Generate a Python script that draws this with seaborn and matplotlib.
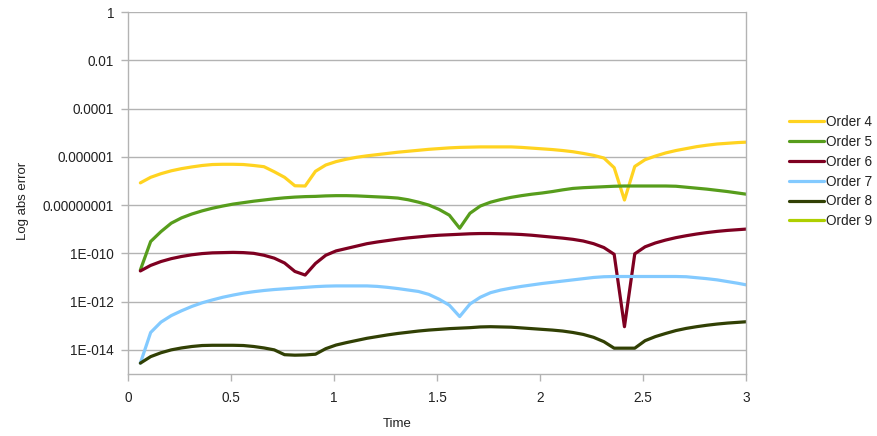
import numpy as np
import pandas as pd
import matplotlib
matplotlib.use("Agg")
import matplotlib.pyplot as plt
from matplotlib.lines import Line2D
import seaborn as sns

# Sample times
time = [0.06, 0.11, 0.16, 0.21, 0.26, 0.31, 0.36, 0.41, 0.46, 0.51,
        0.56, 0.61, 0.66, 0.71, 0.76, 0.81, 0.86, 0.91, 0.96, 1.01,
        1.06, 1.11, 1.16, 1.21, 1.26, 1.31, 1.36, 1.41, 1.46, 1.51,
        1.56, 1.61, 1.66, 1.71, 1.76, 1.81, 1.86, 1.91, 1.96, 2.01,
        2.06, 2.11, 2.16, 2.21, 2.26, 2.31, 2.36, 2.41, 2.46, 2.51,
        2.56, 2.61, 2.66, 2.71, 2.76, 2.81, 2.86, 2.91, 2.96, 3.01]

# log10 of the absolute error for each integration order
order4_log10 = [-7.08, -6.85, -6.70, -6.58, -6.49, -6.42, -6.36, -6.32, -6.31, -6.31,
                -6.32, -6.36, -6.41, -6.62, -6.85, -7.20, -7.21, -6.60, -6.34, -6.20,
                -6.10, -6.02, -5.96, -5.91, -5.86, -5.81, -5.77, -5.73, -5.69, -5.66,
                -5.63, -5.61, -5.60, -5.59, -5.59, -5.59, -5.59, -5.61, -5.64, -5.67,
                -5.70, -5.74, -5.79, -5.86, -5.94, -6.05, -6.45, -7.79, -6.40, -6.12,
                -5.97, -5.84, -5.74, -5.66, -5.58, -5.52, -5.47, -5.44, -5.41, -5.39]
order5_log10 = [-10.69, -9.51, -9.10, -8.75, -8.53, -8.37, -8.24, -8.13, -8.04, -7.96,
                -7.90, -7.84, -7.79, -7.74, -7.70, -7.67, -7.65, -7.64, -7.62, -7.61,
                -7.61, -7.62, -7.64, -7.66, -7.68, -7.71, -7.78, -7.88, -8.00, -8.18,
                -8.42, -8.96, -8.34, -8.04, -7.88, -7.77, -7.68, -7.61, -7.55, -7.50,
                -7.44, -7.37, -7.31, -7.28, -7.26, -7.24, -7.22, -7.21, -7.21, -7.21,
                -7.21, -7.21, -7.22, -7.26, -7.30, -7.34, -7.39, -7.44, -7.50, -7.56]
order6_log10 = [-10.73, -10.50, -10.34, -10.22, -10.13, -10.06, -10.01, -9.98, -9.97, -9.96,
                -9.97, -10.00, -10.08, -10.20, -10.40, -10.75, -10.90, -10.42, -10.08, -9.90,
                -9.80, -9.70, -9.60, -9.53, -9.47, -9.41, -9.36, -9.32, -9.28, -9.25,
                -9.23, -9.21, -9.19, -9.18, -9.18, -9.19, -9.20, -9.22, -9.25, -9.29,
                -9.33, -9.37, -9.42, -9.49, -9.60, -9.76, -10.04, -13.04, -10.02, -9.73,
                -9.57, -9.45, -9.35, -9.27, -9.20, -9.14, -9.09, -9.05, -9.02, -8.99]
order7_log10 = [-14.55, -13.28, -12.85, -12.58, -12.38, -12.20, -12.05, -11.93, -11.82, -11.73,
                -11.65, -11.59, -11.54, -11.50, -11.47, -11.44, -11.41, -11.38, -11.36, -11.35,
                -11.35, -11.35, -11.35, -11.37, -11.41, -11.46, -11.52, -11.58, -11.70, -11.90,
                -12.15, -12.62, -12.10, -11.82, -11.63, -11.52, -11.44, -11.37, -11.31, -11.25,
                -11.20, -11.15, -11.10, -11.05, -11.00, -10.97, -10.96, -10.96, -10.96, -10.96,
                -10.96, -10.96, -10.96, -10.97, -11.01, -11.05, -11.10, -11.17, -11.24, -11.32]
order8_log10 = [-14.55, -14.28, -14.12, -14.00, -13.92, -13.86, -13.82, -13.81, -13.81, -13.81,
                -13.82, -13.86, -13.92, -14.00, -14.20, -14.22, -14.21, -14.18, -13.95, -13.80,
                -13.70, -13.61, -13.52, -13.45, -13.38, -13.32, -13.27, -13.22, -13.18, -13.15,
                -13.12, -13.10, -13.08, -13.05, -13.04, -13.05, -13.06, -13.09, -13.12, -13.15,
                -13.18, -13.22, -13.28, -13.36, -13.48, -13.66, -13.93, -13.93, -13.93, -13.62,
                -13.45, -13.32, -13.20, -13.11, -13.04, -12.98, -12.93, -12.89, -12.86, -12.83]
order9_log10 = []

series_names = ["Order 4", "Order 5", "Order 6", "Order 7", "Order 8", "Order 9"]
series_log10 = [order4_log10, order5_log10, order6_log10,
                order7_log10, order8_log10, order9_log10]
colors = ["#ffd320", "#579d1c", "#7e0021", "#83caff", "#314004", "#aecf00"]

y_tick_values = [1, 1e-2, 1e-4, 1e-6, 1e-8, 1e-10, 1e-12, 1e-14]
y_tick_labels = ["1", "0.01", "0.0001", "0.000001", "0.00000001",
                 "1E-010", "1E-012", "1E-014"]
x_tick_values = [0, 0.5, 1, 1.5, 2, 2.5, 3]
x_tick_labels = ["0", "0.5", "1", "1.5", "2", "2.5", "3"]

rows = []
for name, vals in zip(series_names, series_log10):
    for t, v in zip(time, vals):
        rows.append({"Time": t, "Error": 10.0 ** v, "Series": name})
df = pd.DataFrame(rows)

sns.set_style("white")
plt.rcParams["font.family"] = ["Liberation Sans", "DejaVu Sans"]

fig = plt.figure(figsize=(8.78, 4.36), dpi=100)
ax = fig.add_axes([128 / 878, 1 - 374 / 436, 618 / 878, 362 / 436])

palette = dict(zip(series_names, colors))
sns.lineplot(data=df, x="Time", y="Error", hue="Series",
             hue_order=[n for n in series_names if n in set(df["Series"])],
             palette=palette, estimator=None, errorbar=None, sort=True,
             linewidth=2.3, legend=False, ax=ax, clip_on=True)

ax.set_yscale("log")
ax.set_ylim(1e-15, 1)
ax.set_xlim(0, 3)
ax.set_yticks(y_tick_values)
ax.set_yticklabels(y_tick_labels)
ax.yaxis.set_minor_locator(matplotlib.ticker.NullLocator())
ax.set_xticks(x_tick_values)
ax.set_xticklabels(x_tick_labels)

grid_col = "#b3b3b3"
ax.grid(axis="y", color=grid_col, linewidth=1.0)
ax.grid(axis="x", visible=False)
ax.set_axisbelow(True)
for side in ["left", "bottom", "right"]:
    ax.spines[side].set_visible(True)
    ax.spines[side].set_color(grid_col)
    ax.spines[side].set_linewidth(1.0)
ax.spines["top"].set_visible(False)
ax.tick_params(axis="both", which="major", length=5, width=1.0, color=grid_col,
               labelsize=9.8, labelcolor="#222222", direction="out",
               left=True, bottom=True, right=False)
ax.tick_params(axis="x", pad=7)
ax.tick_params(axis="y", pad=5)

ax.set_xlabel("Time", fontsize=9.5, color="#222222")
ax.set_ylabel("Log abs error", fontsize=9.5, color="#222222")
ax.xaxis.set_label_coords((397 - 128) / 618, (374 - 418) / 362)
ax.yaxis.set_label_coords((29 - 128) / 618, (374 - 201) / 362)

handles = [Line2D([0], [0], color=c, linewidth=2.3) for c in colors]
fig.legend(handles, series_names, loc="upper left",
           bbox_to_anchor=(789 / 878, 1 - 115 / 436), frameon=False,
           fontsize=9.8, handlelength=2.6, handletextpad=0.15,
           labelspacing=0.43, borderaxespad=0, borderpad=0,
           labelcolor="#222222")

fig.savefig("out.png", dpi=100)
